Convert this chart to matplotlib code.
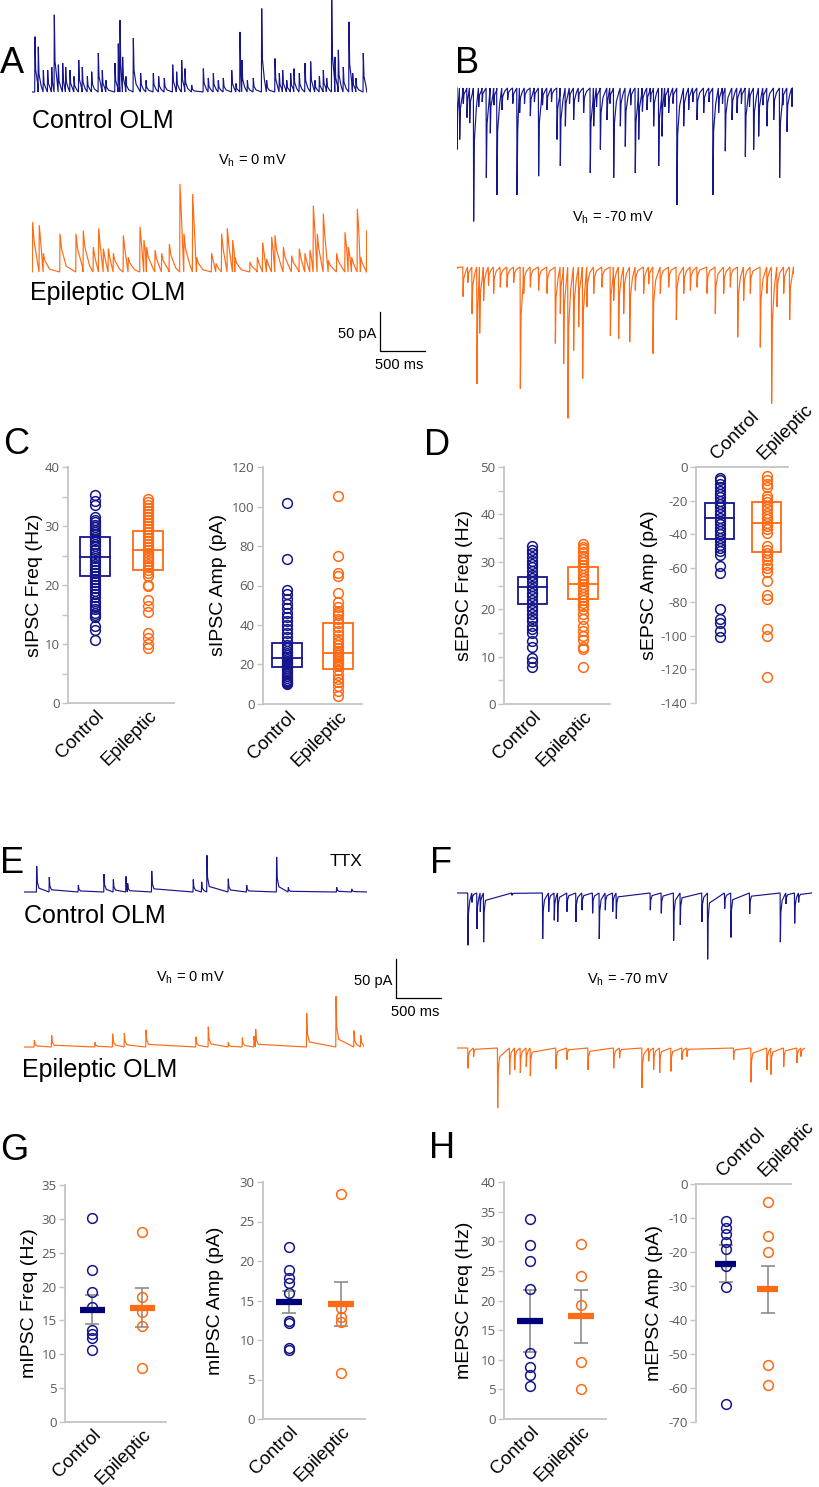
import matplotlib
matplotlib.use('Agg')
from matplotlib import pyplot as plt
from matplotlib.patches import Rectangle

W, H = 820, 1487
BLUE = '#16168c'
NAVY = '#00007a'
ORANGE = '#ff6a14'
SPINE = '#c4c4c4'
TICKTXT = '#5a5a5a'
ERRGREY = '#8c8c8c'

plt.rcParams['font.family'] = ['Liberation Sans', 'DejaVu Sans']
plt.rcParams['mathtext.fontset'] = 'custom'
plt.rcParams['mathtext.rm'] = 'Liberation Sans'

groups = ['Control', 'Epileptic']

# ---- traces: event times (s) and amplitudes (pA) ----
a_ctrl_t = [0.033, 0.07, 0.126, 0.174, 0.219, 0.248, 0.293, 0.341, 0.374, 0.422, 0.467, 0.519, 0.559,
            0.615, 0.663, 0.737, 0.781, 0.822, 0.922, 0.959, 0.978, 1.007, 1.044, 1.126, 1.207, 1.267,
            1.348, 1.407, 1.47, 1.563, 1.607, 1.663, 1.7, 1.774, 1.904, 1.959, 2.015, 2.07, 2.126, 2.219,
            2.267, 2.311, 2.333, 2.393, 2.459, 2.552, 2.607, 2.7, 2.748, 2.785, 2.83, 2.874, 2.911, 2.97,
            3.033, 3.096, 3.144, 3.193, 3.237, 3.274, 3.33, 3.367, 3.404, 3.459, 3.522, 3.563, 3.6, 3.681]
a_ctrl_amp = [71, 58, 28, 28, 32, 99, 35, 37, 32, 28, 20, 41, 32, 20, 26, 50, 28, 15, 37, 62, 92, 45, 20,
              69, 24, 15, 24, 20, 18, 35, 26, 41, 30, 9, 30, 18, 24, 15, 18, 28, 11, 77, 41, 15, 18, 107,
              15, 43, 24, 28, 15, 24, 30, 24, 37, 39, 15, 20, 28, 18, 118, 45, 54, 32, 90, 24, 18, 50]
a_epi_t = [0.007, 0.081, 0.126, 0.311, 0.489, 0.57, 0.681, 0.741, 0.793, 0.848, 0.904, 1.015, 1.07, 1.2,
           1.244, 1.274, 1.367, 1.441, 1.526, 1.644, 1.689, 1.785, 1.83, 1.996, 2.044, 2.107, 2.17, 2.23,
           2.256, 2.422, 2.504, 2.563, 2.607, 2.663, 2.7, 2.793, 2.885, 2.97, 3.033, 3.089, 3.126, 3.17,
           3.237, 3.293, 3.385, 3.478, 3.515, 3.552, 3.615, 3.652, 3.719]
a_epi_amp = [64, 60, 24, 49, 49, 53, 32, 56, 30, 30, 24, 47, 19, 58, 41, 32, 28, 24, 36, 113, 49, 100, 19,
             24, 11, 49, 56, 41, 19, 13, 19, 38, 17, 45, 47, 32, 21, 30, 24, 28, 85, 49, 75, 15, 24, 51,
             32, 19, 81, 19, 53]
b_ctrl_t = [0.0, 0.03, 0.07, 0.111, 0.141, 0.185, 0.241, 0.28, 0.326, 0.37, 0.41, 0.444, 0.5, 0.563, 0.62,
            0.667, 0.696, 0.75, 0.815, 0.86, 0.907, 0.95, 1.0, 1.05, 1.111, 1.148, 1.204, 1.25, 1.296,
            1.35, 1.407, 1.481, 1.519, 1.55, 1.593, 1.667, 1.7, 1.741, 1.815, 1.87, 1.93, 1.981, 2.019,
            2.06, 2.111, 2.15, 2.185, 2.241, 2.278, 2.31, 2.352, 2.4, 2.444, 2.519, 2.574, 2.62, 2.667,
            2.741, 2.8, 2.844, 2.907, 2.95, 2.981, 3.056, 3.111, 3.16, 3.204, 3.25, 3.296, 3.352, 3.4,
            3.444, 3.519, 3.585, 3.62, 3.667, 3.722]
b_ctrl_amp = [-79, -66, -20, -38, -45, -171, -24, -18, -115, -58, -22, -137, -28, -15, -20, -137, -32,
              -20, -36, -18, -113, -22, -28, -18, -66, -100, -49, -20, -41, -18, -32, -109, -49, -24, -79,
              -41, -20, -115, -49, -75, -22, -109, -66, -30, -28, -18, -49, -100, -62, -24, -32, -20, -150,
              -49, -28, -18, -41, -32, -18, -137, -32, -20, -81, -41, -32, -20, -88, -24, -79, -62, -22,
              -49, -41, -115, -22, -56, -24]
b_epi_t = [0.0, 0.067, 0.12, 0.167, 0.222, 0.252, 0.296, 0.35, 0.407, 0.481, 0.556, 0.63, 0.704, 0.741,
           0.815, 0.907, 1.0, 1.093, 1.148, 1.185, 1.233, 1.296, 1.352, 1.396, 1.444, 1.519, 1.611, 1.704,
           1.741, 1.796, 1.852, 1.919, 1.981, 2.074, 2.13, 2.178, 2.259, 2.352, 2.437, 2.519, 2.593, 2.667,
           2.778, 2.87, 2.963, 3.037, 3.119, 3.185, 3.259, 3.37, 3.444, 3.496, 3.556, 3.63, 3.696, 3.741]
b_epi_amp = [-2, -38, -20, -60, -150, -85, -43, -24, -34, -26, -26, -20, -156, -34, -26, -30, -34, -98,
             -60, -124, -194, -107, -77, -143, -51, -34, -26, -88, -43, -92, -60, -96, -30, -34, -22, -111,
             -34, -26, -68, -34, -30, -26, -34, -60, -34, -26, -90, -43, -34, -103, -34, -175, -51, -34,
             -68, -9]
e_ctrl_t = [0.141, 0.281, 0.604, 0.889, 0.993, 1.133, 1.152, 1.419, 1.881, 1.974, 2.033, 2.27, 2.474,
            2.807, 2.937, 3.474, 3.641]
e_ctrl_amp = [33, 19, 9, 23, 16, 20, 11, 27, 16, 13, 47, 17, 9, 45, 6, 6, 4]
e_epi_t = [0.115, 0.307, 0.789, 0.985, 1.115, 1.356, 1.911, 2.048, 2.27, 2.426, 2.556, 2.574, 3.141,
           3.467, 3.667, 3.741]
e_epi_amp = [9, 15, 6, 17, 18, 22, 13, 26, 6, 12, 14, 23, 43, 65, 21, 15]
f_ctrl_t = [0.122, 0.167, 0.222, 0.259, 0.296, 0.611, 0.952, 1.019, 1.081, 1.119, 1.222, 1.322, 1.389,
            1.507, 1.581, 1.648, 1.73, 1.77, 2.148, 2.27, 2.407, 2.481, 2.722, 2.785, 2.974, 3.044, 3.252,
            3.593, 3.656, 3.752, 3.796]
f_ctrl_amp = [-67, -12, -46, -24, -63, -3, -59, -24, -35, -37, -24, -37, -22, -26, -59, -22, -24, -33,
              -22, -26, -61, -41, -37, -85, -20, -57, -27, -63, -14, -39, -12]
f_epi_t = [0.122, 0.185, 0.452, 0.585, 0.641, 0.704, 0.77, 0.815, 1.1, 1.222, 1.456, 1.741, 1.807, 2.056,
           2.13, 2.185, 2.252, 2.378, 2.5, 2.556, 3.074, 3.267, 3.444, 3.489, 3.63, 3.778, 3.822]
f_epi_amp = [-26, -11, -77, -34, -28, -32, -24, -36, -27, -15, -28, -26, -13, -51, -17, -28, -32, -30,
             -15, -11, -15, -44, -28, -34, -24, -19, -11]

# ---- sIPSC / sEPSC scatter + box (C, D) ----
sipsc_freq_ctrl = [35.2, 34.2, 33.6, 31.5, 31.0, 30.6, 30.2, 29.8, 29.4, 29.0, 28.6, 28.2, 27.8, 27.4,
                   27.0, 26.6, 26.0, 25.4, 25.0, 24.5, 24.0, 23.5, 23.0, 22.5, 22.0, 21.5, 21.0, 20.5,
                   20.0, 19.5, 19.0, 18.5, 18.0, 17.3, 17.0, 16.5, 16.0, 15.3, 15.0, 14.5, 13.0, 12.4, 10.7]
sipsc_freq_epi = [34.5, 34.0, 33.5, 33.0, 32.5, 32.0, 31.5, 31.0, 30.5, 30.0, 29.5, 29.0, 28.5, 28.0,
                  27.5, 27.0, 26.5, 26.0, 25.5, 25.0, 24.5, 24.0, 23.5, 23.0, 22.5, 22.0, 21.5, 20.0,
                  19.8, 17.5, 16.5, 15.5, 11.8, 11.0, 10.0, 9.3]
sipsc_amp_ctrl = [101.8, 73.5, 57.5, 55.5, 53, 50.5, 48.5, 46, 44, 42, 40, 38, 36, 34, 32, 30, 28.5, 27,
                  26, 25, 24, 23, 22, 21, 20, 19, 18, 17, 16, 15, 14, 13, 12, 11.5, 11, 10.5, 10]
sipsc_amp_epi = [105.5, 75, 66.5, 65, 56, 51.5, 49, 47, 46, 45, 43, 41, 39, 37, 35, 33, 31.5, 30, 28.5,
                 27, 26, 25, 24, 23, 22, 21, 20, 19, 17, 14.5, 12.5, 11, 9, 6.5, 4]
sepsc_freq_ctrl = [33.3, 32.5, 31.8, 31.0, 30.2, 29.5, 28.8, 28.0, 27.3, 26.5, 25.8, 25.0, 24.3, 23.5,
                   22.8, 22.0, 21.3, 20.5, 19.8, 19.0, 18.2, 17.5, 16.5, 15.8, 15.0, 13.3, 12.0, 9.8, 8.8, 7.8]
sepsc_freq_epi = [33.8, 33.2, 32.6, 32.0, 31.3, 30.6, 30.0, 29.3, 28.6, 28.0, 27.3, 26.6, 26.0, 25.3,
                  24.6, 24.0, 23.3, 22.6, 22.0, 21.3, 20.6, 20.0, 19.0, 18.0, 16.5, 15.5, 14.3, 13.5,
                  12.0, 11.5, 7.8]
sepsc_amp_ctrl = [-6.5, -8, -10, -12, -14, -16, -18, -20, -22, -24, -26, -28, -30, -32, -34, -36, -38,
                  -40, -42, -44, -46, -48, -50, -52, -58.5, -63, -84, -90, -92.5, -97, -101]
sepsc_amp_epi = [-5.5, -7.5, -10, -12, -17, -19, -21, -23, -25, -27, -29, -31, -33, -35, -37, -39, -47,
                 -49, -51, -53, -55, -58, -60, -62, -67.5, -76, -78.5, -96, -100, -124.5]

# box (q1, median, q3) per group
sipsc_freq_box = [(21.5, 24.8, 28.2), (22.5, 26.0, 29.2)]
sipsc_amp_box = [(18.5, 23.5, 31.0), (17.5, 26.0, 41.0)]
sepsc_freq_box = [(21.0, 24.7, 26.7), (22.2, 25.4, 29.0)]
sepsc_amp_box = [(-42.5, -30.5, -21.5), (-50.5, -33.5, -20.5)]

# ---- mIPSC / mEPSC scatter + mean +/- sem (G, H) ----
mipsc_freq_ctrl = [30.2, 22.4, 19.2, 17.0, 13.6, 13.0, 12.4, 10.6]
mipsc_freq_epi = [28.1, 18.4, 16.2, 14.2, 8.0]
mipsc_amp_ctrl = [21.8, 18.9, 17.8, 17.2, 16.0, 12.4, 12.1, 9.0, 8.7]
mipsc_amp_epi = [28.5, 14.0, 12.9, 12.3, 5.8]
mepsc_freq_ctrl = [33.7, 29.3, 26.7, 21.9, 11.2, 8.7, 7.5, 5.6]
mepsc_freq_epi = [29.6, 24.1, 19.3, 9.6, 5.0]
mepsc_amp_ctrl = [-11.0, -12.8, -14.6, -17.0, -19.2, -24.2, -30.3, -64.8]
mepsc_amp_epi = [-5.4, -15.3, -20.1, -53.2, -59.2]

mipsc_freq_mean = [16.6, 16.9]
mipsc_freq_sem = [2.2, 2.9]
mipsc_amp_mean = [14.8, 14.6]
mipsc_amp_sem = [1.4, 2.8]
mepsc_freq_mean = [16.5, 17.3]
mepsc_freq_sem = [5.2, 4.4]
mepsc_amp_mean = [-23.4, -31.0]
mepsc_amp_sem = [5.5, 7.0]

PX_PER_S = 90.0
PX_PER_PA = 0.78

fig = plt.figure(figsize=(8.2, 14.87), dpi=100)

ov = fig.add_axes([0, 0, 1, 1])
ov.set_xlim(0, W)
ov.set_ylim(H, 0)
ov.axis('off')
ov.set_zorder(5)


def trace_line(times, amps, dur, decay, tail):
    xs, ys = [0.0], [0.0]
    for i, (t, a) in enumerate(zip(times, amps)):
        nxt = times[i + 1] if i + 1 < len(times) else dur
        pts = [(t - 0.003, 0.0), (t, a), (t + 0.25 * decay, tail * a), (t + decay, 0.15 * a)]
        for j, (x, y) in enumerate(pts):
            if j < 2 or x < nxt - 0.004:
                xs.append(max(x, 0.0))
                ys.append(y)
    xs.append(dur)
    ys.append(0.0)
    return xs, ys


def draw_trace(x0, ybase, times, amps, dur, color, decay=0.03, tail=0.4):
    half = 160
    ax = fig.add_axes([x0 / W, 1 - (ybase + half) / H, dur * PX_PER_S / W, 2 * half / H])
    ax.set_xlim(0, dur)
    ax.set_ylim(-half / PX_PER_PA, half / PX_PER_PA)
    ax.axis('off')
    xs, ys = trace_line(times, amps, dur, decay, tail)
    ax.plot(xs, ys, color=color, lw=0.85, solid_joinstyle='miter')
    return ax


draw_trace(32, 92, a_ctrl_t, a_ctrl_amp, 3.72, BLUE, 0.03)
draw_trace(32, 272, a_epi_t, a_epi_amp, 3.72, ORANGE, 0.07, 0.6)
draw_trace(457, 88, b_ctrl_t, b_ctrl_amp, 3.73, BLUE, 0.03)
draw_trace(457, 267, b_epi_t, b_epi_amp, 3.74, ORANGE, 0.03)
draw_trace(24, 892, e_ctrl_t, e_ctrl_amp, 3.81, BLUE, 0.025)
draw_trace(24, 1047, e_epi_t, e_epi_amp, 3.78, ORANGE, 0.03)
draw_trace(457, 893, f_ctrl_t, f_ctrl_amp, 3.94, BLUE, 0.02)
draw_trace(457, 1048, f_epi_t, f_epi_amp, 3.87, ORANGE, 0.02)

# panel letters
for letter, x, y in [('A', 0, 73), ('B', 455, 73), ('C', 3, 454), ('D', 424, 455),
                     ('E', 0, 873), ('F', 430, 873), ('G', 0, 1160), ('H', 429, 1158)]:
    ov.text(x, y, letter, fontsize=26, va='baseline', ha='left')

ov.text(32, 128, 'Control OLM', fontsize=18, va='baseline')
ov.text(30, 300, 'Epileptic OLM', fontsize=18, va='baseline')
ov.text(24, 923, 'Control OLM', fontsize=18, va='baseline')
ov.text(22, 1077, 'Epileptic OLM', fontsize=18, va='baseline')
ov.text(218, 164, r'V$_{\mathregular{h}}$ = 0 mV', fontsize=10.5, va='baseline')
ov.text(572, 221, r'V$_{\mathregular{h}}$ = -70 mV', fontsize=10.5, va='baseline')
ov.text(156, 981, r'V$_{\mathregular{h}}$ = 0 mV', fontsize=10.5, va='baseline')
ov.text(587, 983, r'V$_{\mathregular{h}}$ = -70 mV', fontsize=10.5, va='baseline')
ov.text(363, 866, 'TTX', fontsize=12.5, va='baseline', ha='right')

# scale bars: 50 pA / 500 ms
for xb, yb in [(380, 351), (396, 998)]:
    ov.plot([xb, xb, xb + 0.5 * PX_PER_S], [yb - 50 * PX_PER_PA, yb, yb], color='black', lw=0.9)
    ov.text(xb - 4, yb - 13, '50 pA', fontsize=10.5, ha='right', va='baseline')
    ov.text(xb - 5, yb + 18, '500 ms', fontsize=10.5, ha='left', va='baseline')


def stat_axes(l, t, r, b, xlim, ylim, yticks, ylabels, label, label_x, top=False):
    ax = fig.add_axes([l / W, 1 - b / H, (r - l) / W, (b - t) / H])
    ax.set_facecolor('none')
    ax.set_xlim(xlim)
    ax.set_ylim(ylim)
    for s in ['top', 'right', 'bottom', 'left']:
        ax.spines[s].set_visible(False)
    ax.spines['left'].set_visible(True)
    ax.spines['top' if top else 'bottom'].set_visible(True)
    for s in ax.spines.values():
        s.set_color(SPINE)
        s.set_linewidth(1.3)
    ax.set_yticks(yticks)
    ax.set_yticklabels(ylabels, fontfamily='Open Sans', fontsize=9.5, color=TICKTXT)
    ax.tick_params(axis='y', length=4, width=1, color=SPINE, pad=2)
    ax.set_xticks([0, 1])
    if top:
        ax.xaxis.tick_top()
        ax.set_xticklabels(groups, rotation=45, ha='left', va='bottom', rotation_mode='anchor', fontsize=13.5)
    else:
        ax.set_xticklabels(groups, rotation=45, ha='right', va='top', rotation_mode='anchor', fontsize=13.5)
    ax.tick_params(axis='x', length=0, pad=3)
    ax.set_ylabel(label, fontsize=14)
    ax.yaxis.set_label_coords((label_x - l) / (r - l), 0.5)
    return ax


def dots(ax, ctrl, epi):
    ax.plot([0] * len(ctrl), ctrl, 'o', mfc='none', mec=BLUE, ms=7, mew=1.1, zorder=3)
    ax.plot([1] * len(epi), epi, 'o', mfc='none', mec=ORANGE, ms=7, mew=1.1, zorder=3)


def boxes(ax, box, width):
    for i, (q1, med, q3) in enumerate(box):
        c = BLUE if i == 0 else ORANGE
        ax.add_patch(Rectangle((i - width / 2, q1), width, q3 - q1, fill=False, ec=c, lw=1.3, zorder=4))
        ax.plot([i - width / 2, i + width / 2], [med, med], color=c, lw=1.3, zorder=4)


def mean_sem(ax, means, sems):
    for i, (m, s) in enumerate(zip(means, sems)):
        ax.errorbar([i], [m], yerr=[s], color=ERRGREY, lw=1.2, capsize=5, capthick=1.2, zorder=2)
        ax.plot([i - 0.25, i + 0.25], [m, m], color=NAVY if i == 0 else ORANGE, lw=4.5,
                solid_capstyle='butt', zorder=4)


def ticks(lo, hi, step, every):
    vals = list(range(lo, hi + 1, step))
    labs = [str(v) if (v - lo) % every == 0 else '' for v in vals]
    return vals, labs


# C
yt, yl = ticks(0, 40, 5, 10)
ax = stat_axes(68, 467, 174, 703, (-0.51, 1.49), (0, 40), yt, yl, 'sIPSC Freq (Hz)', 43)
dots(ax, sipsc_freq_ctrl, sipsc_freq_epi)
boxes(ax, sipsc_freq_box, 0.55)
yt, yl = ticks(0, 120, 20, 20)
ax = stat_axes(263, 467, 362, 704, (-0.47, 1.47), (0, 120), yt, yl, 'sIPSC Amp (pA)', 227)
dots(ax, sipsc_amp_ctrl, sipsc_amp_epi)
boxes(ax, sipsc_amp_box, 0.57)

# D
yt, yl = ticks(0, 50, 5, 10)
ax = stat_axes(504, 467, 610, 704, (-0.55, 1.53), (0, 50), yt, yl, 'sEPSC Freq (Hz)', 473)
dots(ax, sepsc_freq_ctrl, sepsc_freq_epi)
boxes(ax, sepsc_freq_box, 0.57)
yt, yl = ticks(-140, 0, 20, 20)
ax = stat_axes(696, 467, 788, 703, (-0.51, 1.45), (-140, 0), yt, yl, 'sEPSC Amp (pA)', 658, top=True)
dots(ax, sepsc_amp_ctrl, sepsc_amp_epi)
boxes(ax, sepsc_amp_box, 0.62)

# G
yt, yl = ticks(0, 35, 5, 5)
ax = stat_axes(65, 1185, 166, 1422, (-0.54, 1.48), (0, 35), yt, yl, 'mIPSC Freq (Hz)', 38)
mean_sem(ax, mipsc_freq_mean, mipsc_freq_sem)
dots(ax, mipsc_freq_ctrl, mipsc_freq_epi)
yt, yl = ticks(0, 30, 5, 5)
ax = stat_axes(263, 1182, 365, 1419, (-0.5, 1.46), (0, 30), yt, yl, 'mIPSC Amp (pA)', 224)
mean_sem(ax, mipsc_amp_mean, mipsc_amp_sem)
dots(ax, mipsc_amp_ctrl, mipsc_amp_epi)

# H
yt, yl = ticks(0, 40, 5, 5)
ax = stat_axes(504, 1182, 606, 1419, (-0.51, 1.49), (0, 40), yt, yl, 'mEPSC Freq (Hz)', 473)
mean_sem(ax, mepsc_freq_mean, mepsc_freq_sem)
dots(ax, mepsc_freq_ctrl, mepsc_freq_epi)
yt, yl = ticks(-70, 0, 10, 10)
ax = stat_axes(696, 1184, 791, 1422, (-0.71, 1.55), (-70, 0), yt, yl, 'mEPSC Amp (pA)', 663, top=True)
mean_sem(ax, mepsc_amp_mean, mepsc_amp_sem)
dots(ax, mepsc_amp_ctrl, mepsc_amp_epi)

fig.savefig('out.png', dpi=100)
